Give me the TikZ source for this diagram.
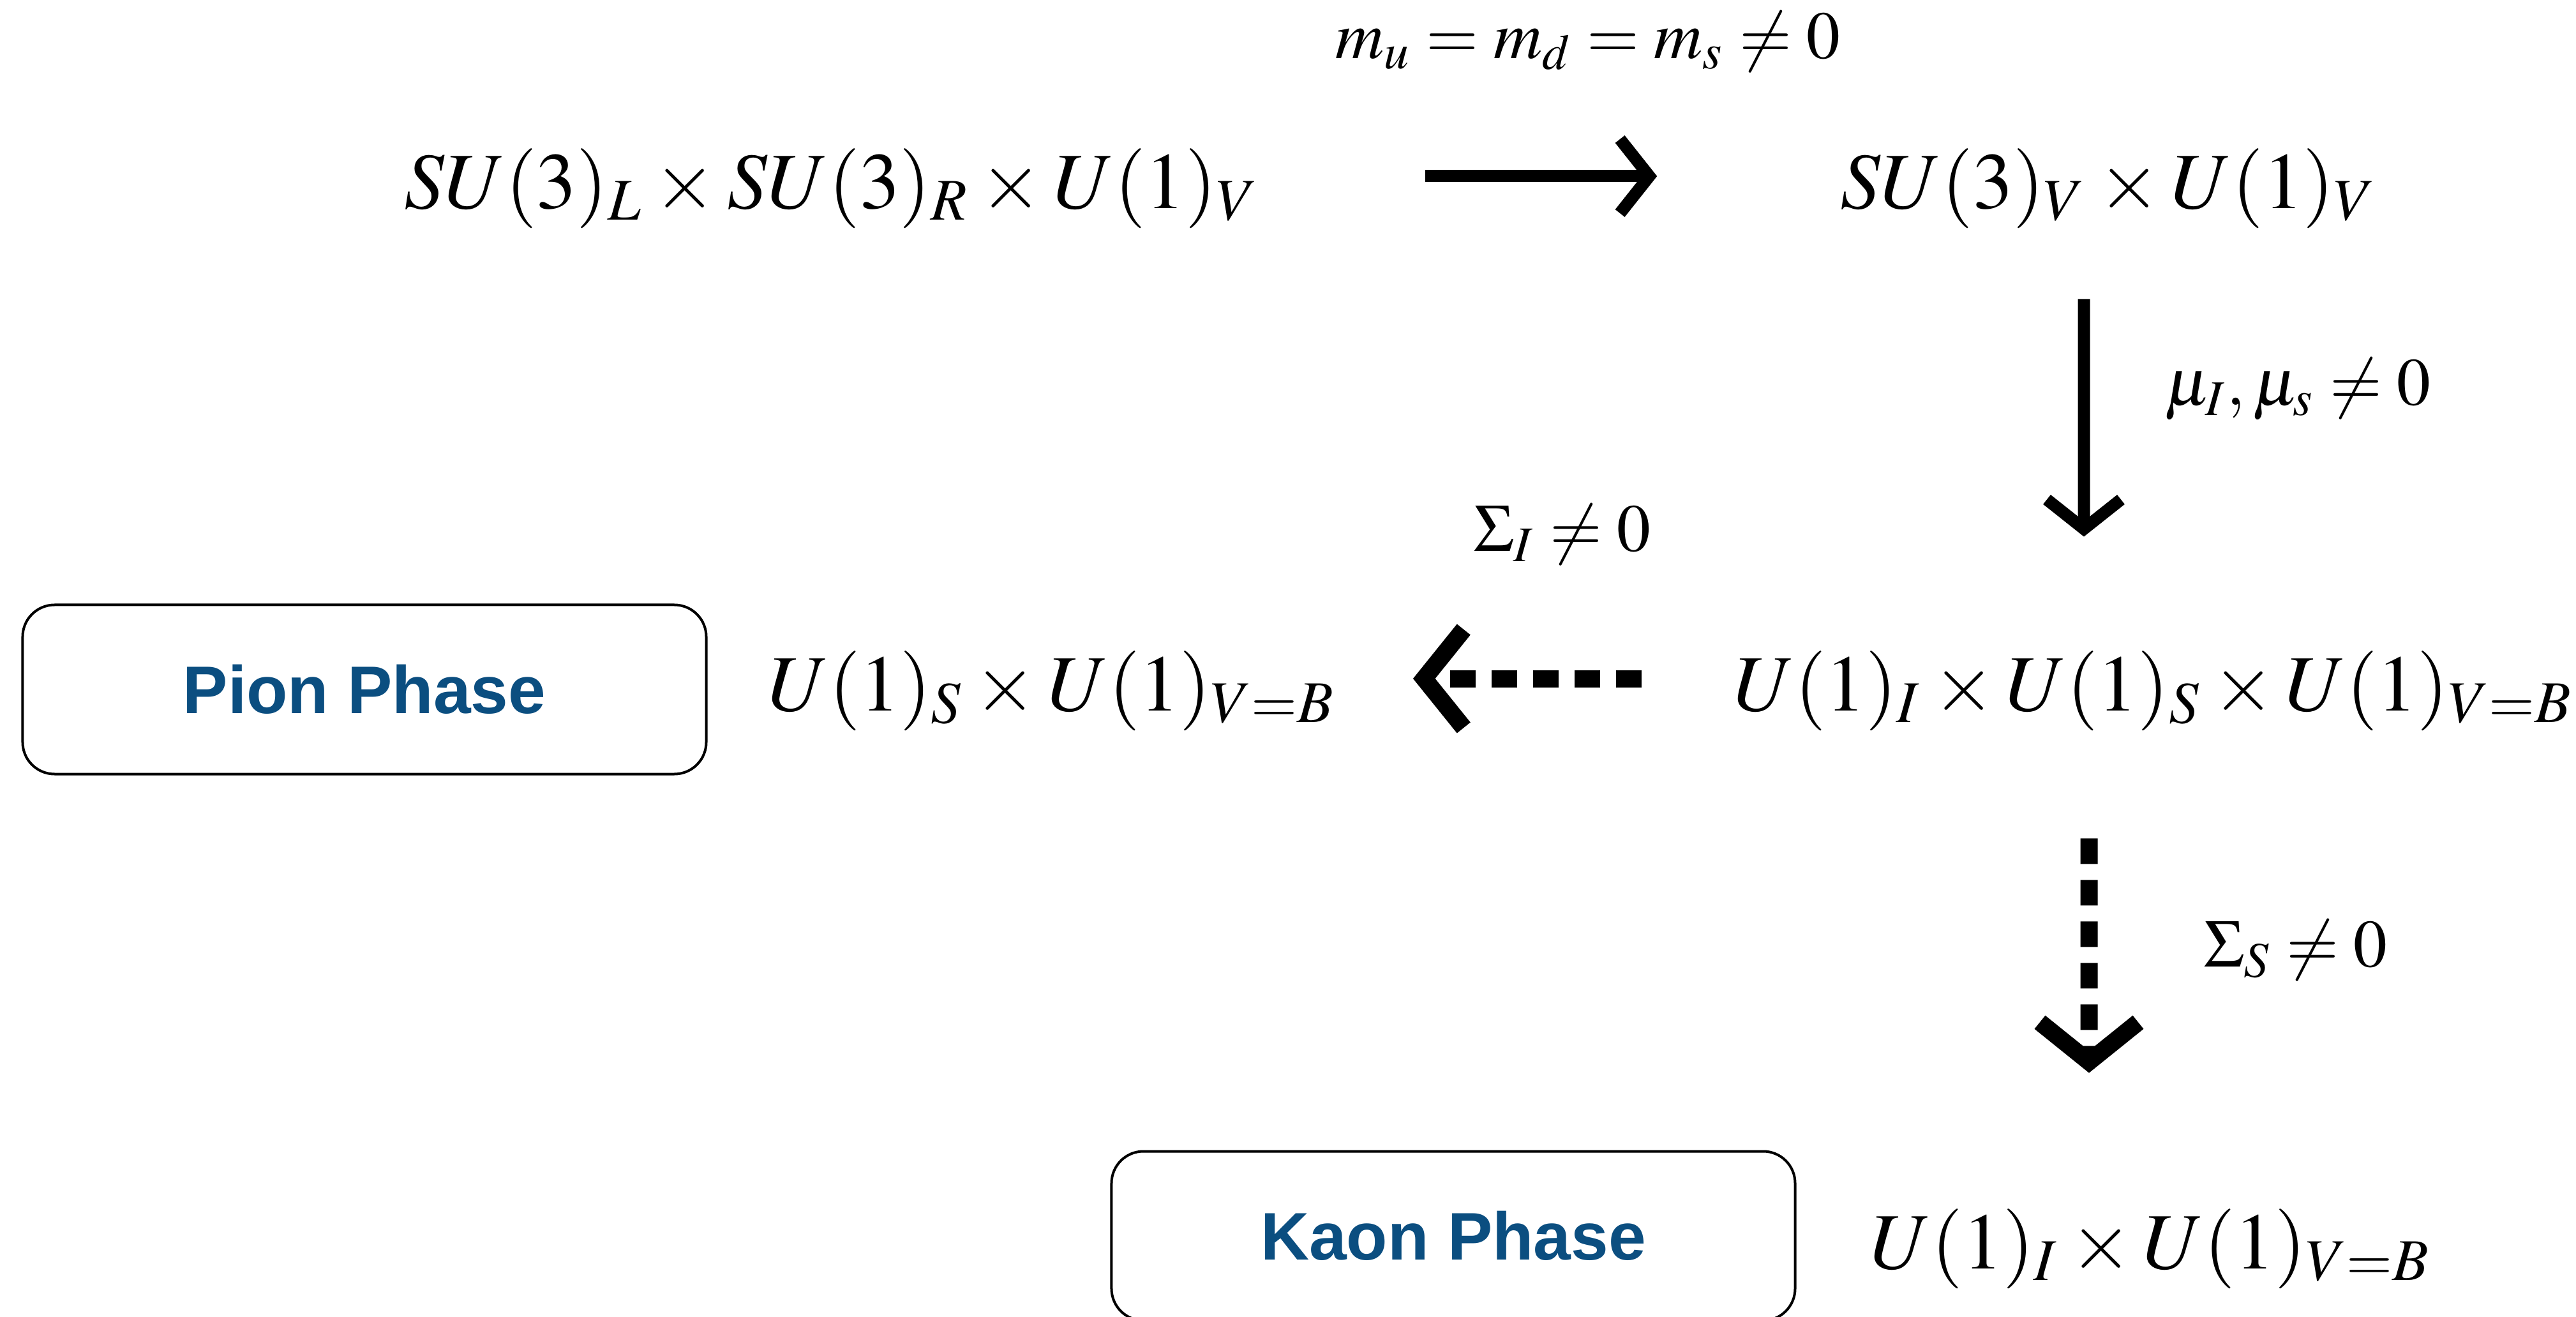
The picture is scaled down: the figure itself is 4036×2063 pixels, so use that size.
\documentclass[tikz,border=0pt]{standalone}
\usepackage{mathptmx}
\usepackage{fontspec}
\setsansfont{Liberation Sans}
\usepackage{tikz}
\usetikzlibrary{arrows.meta,positioning}
\definecolor{PhaseBlue}{HTML}{0B4E80}
\tikzset{
    grp/.style={inner sep=0pt,text height=6.5mm,text depth=1.5mm,font=\fontsize{17.8}{21}\selectfont},
    cond/.style={inner sep=0pt,font=\fontsize{15}{18}\selectfont},
    phase/.style={draw,rounded corners=2.5mm,line width=0.2mm,minimum width=53.55mm,minimum height=13.25mm,
        font=\fontsize{15}{18}\selectfont\sffamily\bfseries,text=PhaseBlue},
    brk/.style={line width=0.95mm,-{Straight Barb[length=2.3mm,width=5.8mm]}},
    sbrk/.style={line width=1.35mm,dash pattern=on 2mm off 1.25mm,-{Straight Barb[length=3.1mm,width=7.7mm]}}
}
\begin{document}
\begin{tikzpicture}[x=0.05mm,y=-0.05mm]
    \useasboundingbox (0,0) rectangle (4036,2063);
    \node[grp] (gL) at (1303,276) {$SU(3)_L\times SU(3)_R\times U(1)_V$};
    \node[grp] (gV) at (3304,276) {$SU(3)_V\times U(1)_V$};
    \node[grp] (gISB) at (3374,1063) {$U(1)_I\times U(1)_S\times U(1)_{V=B}$};
    \node[grp] (gSB) at (1648,1063) {$U(1)_S\times U(1)_{V=B}$};
    \node[grp] (gIB) at (3370,1937) {$U(1)_I\times U(1)_{V=B}$};
    \node[phase] (pion) at (571,1080) {Pion Phase};
    \node[phase] (kaon) at (2277,1936) {Kaon Phase};

    \node[cond] (cM) at (2488,65) {$m_u=m_d=m_s\neq 0$};
    \node[cond] (cMu) at (3600,610) {$\mu_I,\mu_s\neq 0$};
    \node[cond] (cSI) at (2448,837) {$\Sigma_I\neq 0$};
    \node[cond] (cSS) at (3597,1488) {$\Sigma_S\neq 0$};

    \draw[brk,shorten <=12.95mm,shorten >=14.3mm] (gL.east) -- (gV.west);
    \draw[brk,shorten <=5.55mm,shorten >=7.05mm] ([xshift=-1.95mm]gV.south) -- ([xshift=-5.45mm]gISB.north);
    \draw[sbrk,shorten <=7.15mm,shorten >=6mm] (gISB.west) -- (gSB.east);
    \draw[sbrk,shorten <=8.45mm,shorten >=8.75mm] ([xshift=-5.05mm]gISB.south) -- ([xshift=-4.85mm]gIB.north);
\end{tikzpicture}
\end{document}
